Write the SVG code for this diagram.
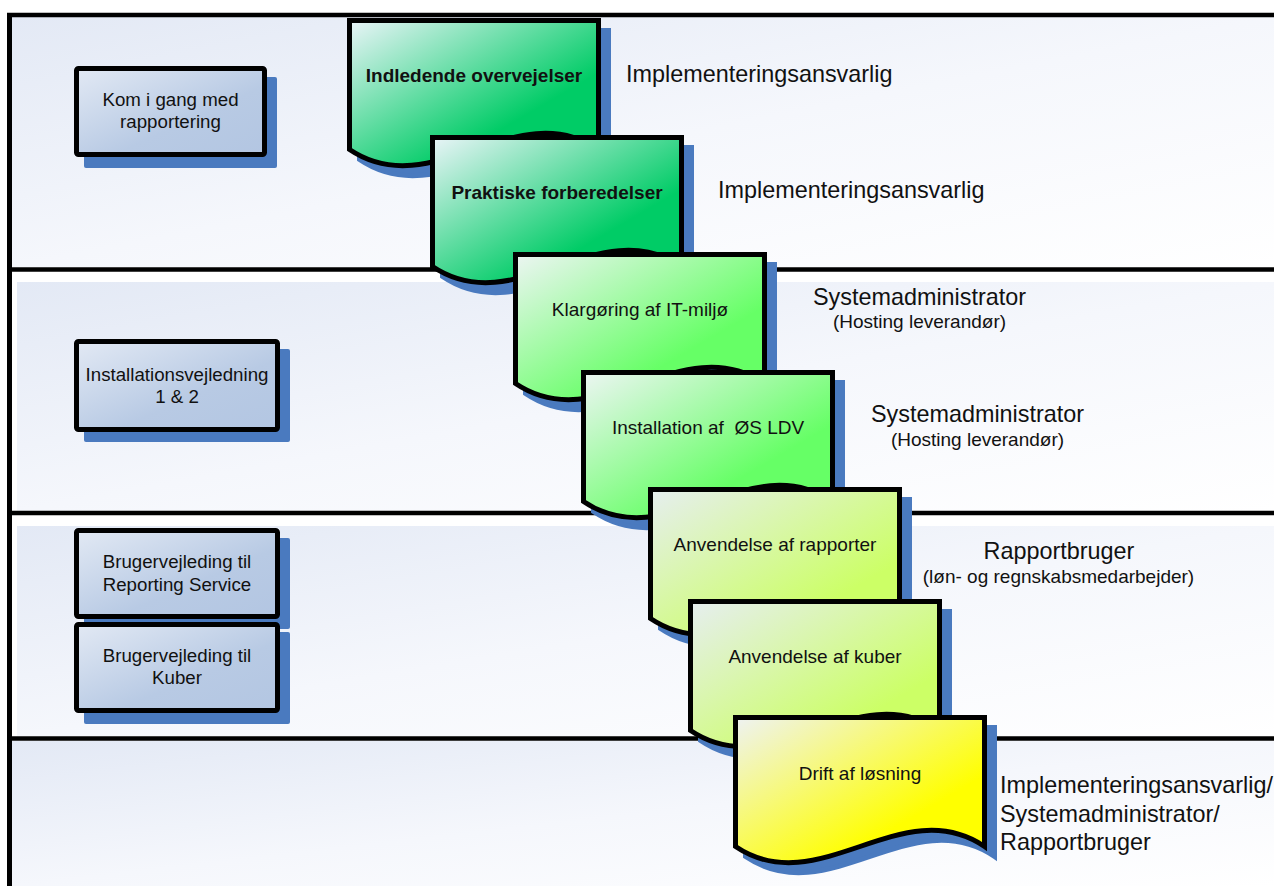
<svg xmlns="http://www.w3.org/2000/svg" xmlns:xlink="http://www.w3.org/1999/xlink" width="1274" height="886" viewBox="0 0 1274 886">
<style>
text{font-family:"Liberation Sans",Arial,sans-serif;fill:#111}
.lane{fill:url(#laneG)}
.line{stroke:#000;stroke-width:4.5;fill:none}
.bx{fill:url(#boxG);stroke:#000;stroke-width:5}
.bxs{fill:#4a7abf}
.bt{font-size:18.7px;text-anchor:middle}
.doc{stroke:#000;stroke-width:5;stroke-linejoin:miter}
.shd{fill:#4a7abf;stroke:#4a7abf;stroke-width:5}
.dt{font-size:19px;text-anchor:middle}
.b{font-weight:bold}
.role{font-size:23.4px}
.sub{font-size:19px}
.mid{text-anchor:middle}
</style>
<defs>
<linearGradient id="laneG" x1="0" y1="0" x2="1" y2="1">
<stop offset="0" stop-color="#e3e9f5"/>
<stop offset="0.5" stop-color="#f5f7fc"/>
<stop offset="1" stop-color="#ffffff"/>
</linearGradient>
<linearGradient id="boxG" x1="0" y1="0" x2="1" y2="1">
<stop offset="0" stop-color="#e2e9f4"/>
<stop offset="0.6" stop-color="#b8cae4"/>
<stop offset="1" stop-color="#b3c6e2"/>
</linearGradient>
<linearGradient id="g1" x1="0" y1="0" x2="1" y2="1">
<stop offset="0" stop-color="#eaf4f8"/>
<stop offset="0.68" stop-color="#00cc66"/>
<stop offset="1" stop-color="#00cc66"/>
</linearGradient>
<linearGradient id="g2" x1="0" y1="0" x2="1" y2="1">
<stop offset="0" stop-color="#edf5f3"/>
<stop offset="0.68" stop-color="#66ff66"/>
<stop offset="1" stop-color="#66ff66"/>
</linearGradient>
<linearGradient id="g3" x1="0" y1="0" x2="1" y2="1">
<stop offset="0" stop-color="#e6eef0"/>
<stop offset="0.75" stop-color="#ccff66"/>
<stop offset="1" stop-color="#ccff66"/>
</linearGradient>
<linearGradient id="g4" x1="0" y1="0" x2="1" y2="1">
<stop offset="0" stop-color="#eef2f4"/>
<stop offset="0.7" stop-color="#ffff00"/>
<stop offset="1" stop-color="#ffff00"/>
</linearGradient>
<path id="doc" d="M0,0 H249 V129 C166,73 83,185 0,129 Z"/>
</defs>

<g id="lanes">
<rect class="lane" x="12" y="17" width="1262" height="250"/>
<rect class="lane" x="17" y="282" width="1257" height="229"/>
<rect class="lane" x="17" y="526" width="1257" height="210"/>
<rect class="lane" x="12" y="741" width="1262" height="145"/>
<line class="line" x1="9.5" y1="13" x2="9.5" y2="886" style="stroke-width:5"/>
<line class="line" x1="7" y1="15" x2="1274" y2="15"/>
<line class="line" x1="9" y1="269.5" x2="1274" y2="269.5"/>
<line class="line" x1="9" y1="513" x2="1274" y2="513"/>
<line class="line" x1="9" y1="738.5" x2="1274" y2="738.5"/>
</g>

<g id="box-kom">
<rect class="bxs" x="84" y="77" width="193" height="91" rx="2"/>
<rect class="bx" x="76.5" y="68.5" width="188" height="86" rx="2"/>
<text class="bt" x="170.5" y="106">Kom i gang med</text>
<text class="bt" x="170.5" y="128">rapportering</text>
</g>
<g id="box-install">
<rect class="bxs" x="84" y="349" width="206" height="93" rx="2"/>
<rect class="bx" x="76.5" y="341.5" width="201" height="88" rx="2"/>
<text class="bt" x="177" y="381">Installationsvejledning</text>
<text class="bt" x="177" y="403">1 &amp; 2</text>
</g>
<g id="box-brug-rs">
<rect class="bxs" x="84" y="538" width="206" height="91" rx="2"/>
<rect class="bx" x="76.5" y="530.5" width="201" height="86" rx="2"/>
<text class="bt" x="177" y="568">Brugervejleding til</text>
<text class="bt" x="177" y="591">Reporting Service</text>
</g>
<g id="box-brug-kuber">
<rect class="bxs" x="84" y="632" width="206" height="92" rx="2"/>
<rect class="bx" x="76.5" y="624.5" width="201" height="86" rx="2"/>
<text class="bt" x="177" y="662">Brugervejleding til</text>
<text class="bt" x="177" y="684">Kuber</text>
</g>

<g id="doc1">
<use xlink:href="#doc" class="shd" transform="translate(359.5,30.5)"/>
<use xlink:href="#doc" class="doc" fill="url(#g1)" transform="translate(349.5,20.5)"/>
<text class="dt b" x="474" y="82">Indledende overvejelser</text>
</g>
<g id="doc2">
<use xlink:href="#doc" class="shd" transform="translate(442.5,147.5)"/>
<use xlink:href="#doc" class="doc" fill="url(#g1)" transform="translate(432.5,137.5)"/>
<text class="dt b" x="557" y="199">Praktiske forberedelser</text>
</g>
<g id="doc3">
<use xlink:href="#doc" class="shd" transform="translate(525.5,264.5)"/>
<use xlink:href="#doc" class="doc" fill="url(#g2)" transform="translate(515.5,254.5)"/>
<text class="dt" x="640" y="316">Klargøring af IT-miljø</text>
</g>
<g id="doc4">
<use xlink:href="#doc" class="shd" transform="translate(593.5,382.5)"/>
<use xlink:href="#doc" class="doc" fill="url(#g2)" transform="translate(583.5,372.5)"/>
<text class="dt" x="708" y="434">Installation af&#160; ØS LDV</text>
</g>
<g id="doc5">
<use xlink:href="#doc" class="shd" transform="translate(660.5,499.5)"/>
<use xlink:href="#doc" class="doc" fill="url(#g3)" transform="translate(650.5,489.5)"/>
<text class="dt" x="775" y="551">Anvendelse af rapporter</text>
</g>
<g id="doc6">
<use xlink:href="#doc" class="shd" transform="translate(700.5,611.5)"/>
<use xlink:href="#doc" class="doc" fill="url(#g3)" transform="translate(690.5,601.5)"/>
<text class="dt" x="815" y="663">Anvendelse af kuber</text>
</g>
<g id="doc7">
<use xlink:href="#doc" class="shd" transform="translate(745.5,727.5)"/>
<use xlink:href="#doc" class="doc" fill="url(#g4)" transform="translate(735.5,717.5)"/>
<text class="dt" x="860" y="780">Drift af løsning</text>
</g>

<g id="roles">
<text class="role" x="626" y="82">Implementeringsansvarlig</text>
<text class="role" x="718" y="198">Implementeringsansvarlig</text>
<text class="role mid" x="919.5" y="305">Systemadministrator</text>
<text class="sub mid" x="919.5" y="328">(Hosting leverandør)</text>
<text class="role mid" x="977.5" y="422">Systemadministrator</text>
<text class="sub mid" x="977.5" y="446">(Hosting leverandør)</text>
<text class="role mid" x="1059" y="559">Rapportbruger</text>
<text class="sub mid" x="1058.5" y="583">(løn- og regnskabsmedarbejder)</text>
<text class="role" x="1000" y="793">Implementeringsansvarlig/</text>
<text class="role" x="1000" y="822">Systemadministrator/</text>
<text class="role" x="1000" y="850">Rapportbruger</text>
</g>
</svg>
